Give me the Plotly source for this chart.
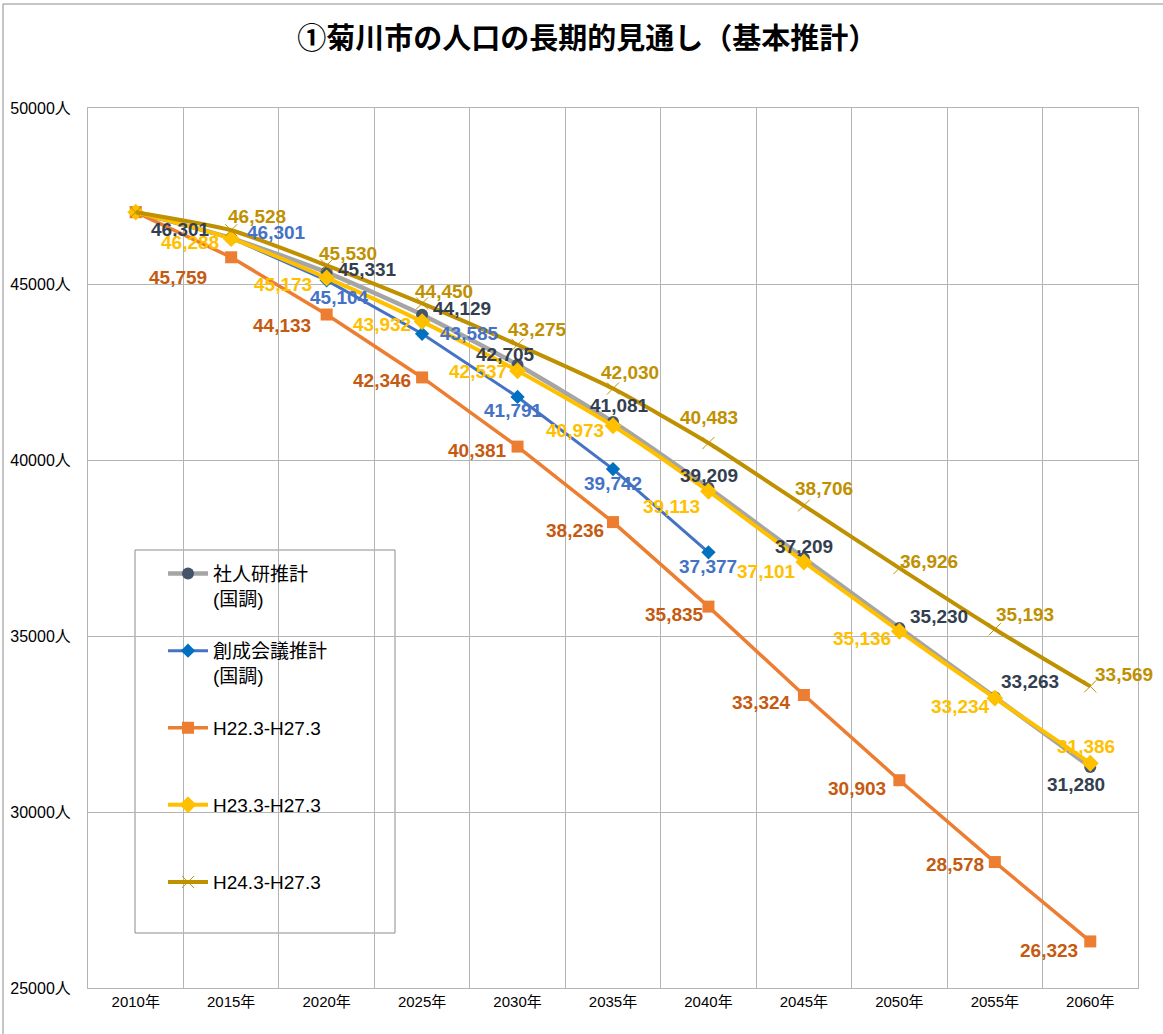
import plotly.graph_objects as go

years = ["2010年", "2015年", "2020年", "2025年", "2030年", "2035年",
         "2040年", "2045年", "2050年", "2055年", "2060年"]

shajinken = [47041, 46301, 45331, 44129, 42705, 41081, 39209, 37209, 35230, 33263, 31280]
sosei = [47041, 46301, 45104, 43585, 41791, 39742, 37377]
h22 = [47041, 45759, 44133, 42346, 40381, 38236, 35835, 33324, 30903, 28578, 26323]
h23 = [47041, 46288, 45173, 43932, 42537, 40973, 39113, 37101, 35136, 33234, 31386]
h24 = [47041, 46528, 45530, 44450, 43275, 42030, 40483, 38706, 36926, 35193, 33569]

names = ["\u00a0<br>社人研推計<br>(国調)", "\u00a0<br>創成会議推計<br>(国調)",
         "\u00a0<br>H22.3-H27.3<br>\u00a0", "\u00a0<br>H23.3-H27.3<br>\u00a0",
         "\u00a0<br>H24.3-H27.3<br>\u00a0"]

# label offsets in px (dx, dy up) for points 2015.. (index 1..)
off_gray = [(-51, 9), (41, 3), (40, 6), (-12, 10), (6, 16), (1, 12), (0, 12), (40, 11), (35, 16), (-14, -18)]
off_blue = [(45, 6), (13, -17), (47, 0), (-4, -14), (0, -14), (0, -14)]
off_orange = [(-53, -20), (-45, -11), (-40, -3), (-40, -4), (-38, -8), (-34, -8), (-42, -7), (-42, -8), (-40, -2), (-41, -9)]
off_yellow = [(-41, -4), (-44, -7), (-40, -3), (-40, -1), (-38, -5), (-37, -15), (-37, -9), (-37, -7), (-34, -8), (-4, 17)]
off_gold = [(26, 14), (21, 12), (22, 12), (20, 15), (17, 16), (1, 26), (20, 17), (30, 7), (30, 15), (34, 12)]

FONT = "Liberation Sans, Noto Sans CJK JP, sans-serif"

fig = go.Figure()

series = [
    dict(y=shajinken, name=names[0], line=dict(color="#A5A5A5", width=4.5, shape="spline", smoothing=0.6),
         marker=dict(symbol="circle", size=12, color="#44546A"), lab="#333F50", off=off_gray),
    dict(y=sosei, name=names[1], line=dict(color="#4472C4", width=3),
         marker=dict(symbol="diamond", size=11, color="#0070C0"), lab="#4472C4", off=off_blue),
    dict(y=h22, name=names[2], line=dict(color="#ED7D31", width=3.5),
         marker=dict(symbol="square", size=12, color="#ED7D31"), lab="#C55A11", off=off_orange),
    dict(y=h23, name=names[3], line=dict(color="#FFC000", width=4, shape="spline", smoothing=0.6),
         marker=dict(symbol="diamond", size=13, color="#FFC000"), lab="#FFC000", off=off_yellow),
    dict(y=h24, name=names[4], line=dict(color="#BF9000", width=4, shape="spline", smoothing=0.6),
         marker=dict(symbol="x-thin", size=12, color="#BF9000", line=dict(color="#BF9000", width=1)),
         lab="#BF9000", off=off_gold),
]

for s in series:
    xs = years[:len(s["y"])]
    fig.add_trace(go.Scatter(x=xs, y=s["y"], mode="lines+markers", name=s["name"],
                             line=s["line"], marker=s["marker"]))
    for i, (dx, dy) in enumerate(s["off"]):
        v = s["y"][i + 1]
        fig.add_annotation(x=xs[i + 1], y=v, text=f"{v:,}", showarrow=False,
                           xshift=dx, yshift=dy,
                           font=dict(family=FONT, size=19, color=s["lab"], weight="bold"))

grid = "#B4B4B4"
L, T, W, H = 88, 108, 1050, 880
fig.update_layout(
    width=1163, height=1034,
    margin=dict(l=L, r=1163 - L - W, t=T, b=1034 - T - H, autoexpand=False),
    paper_bgcolor="white", plot_bgcolor="white",
    title=dict(text="①菊川市の人口の長期的見通し（基本推計）", x=0.505, xanchor="center",
               y=0.962, yanchor="middle",
               font=dict(family="Noto Sans CJK JP", size=29, color="black", weight="bold")),
    xaxis=dict(type="category", range=[-0.5, 10.5], tickson="boundaries", showgrid=True,
               gridcolor=grid, gridwidth=1, showline=True, linecolor=grid, mirror=True,
               tickfont=dict(family=FONT, size=15, color="black"),
               ticks="outside", ticklen=6, tickcolor="rgba(0,0,0,0)", automargin=False),
    yaxis=dict(range=[25000, 50000], dtick=5000, tick0=25000, showgrid=True, gridcolor=grid,
               gridwidth=1, ticksuffix="人", tickformat="d", showline=True, linecolor=grid, mirror=True,
               tickfont=dict(family=FONT, size=16, color="black"), ticks="outside",
               ticklen=13, tickcolor="rgba(0,0,0,0)", zeroline=False, automargin=False),
    showlegend=True,
    legend=dict(x=(163 - L) / W, y=(T + H - 530) / H, xanchor="left", yanchor="top",
                borderwidth=0, bgcolor="rgba(0,0,0,0)",
                font=dict(family=FONT, size=19, color="black"),
                tracegroupgap=0, itemwidth=40),
)

# legend box
fig.add_shape(type="rect", xref="paper", yref="paper",
              x0=(135 - L) / W, x1=(395 - L) / W, y0=(T + H - 933) / H, y1=(T + H - 550) / H,
              line=dict(color="#8C8C8C", width=1), fillcolor="white", layer="between")

# outer chart border
fig.add_shape(type="rect", xref="paper", yref="paper",
              x0=(3 - L) / W, x1=1.2, y0=-0.3, y1=(T + H - 4) / H,
              line=dict(color="#8C8C8C", width=1), fillcolor="rgba(0,0,0,0)", layer="below")

fig.write_html("out.html", config={"displayModeBar": False},
               post_script="document.body.style.margin='0px';")
